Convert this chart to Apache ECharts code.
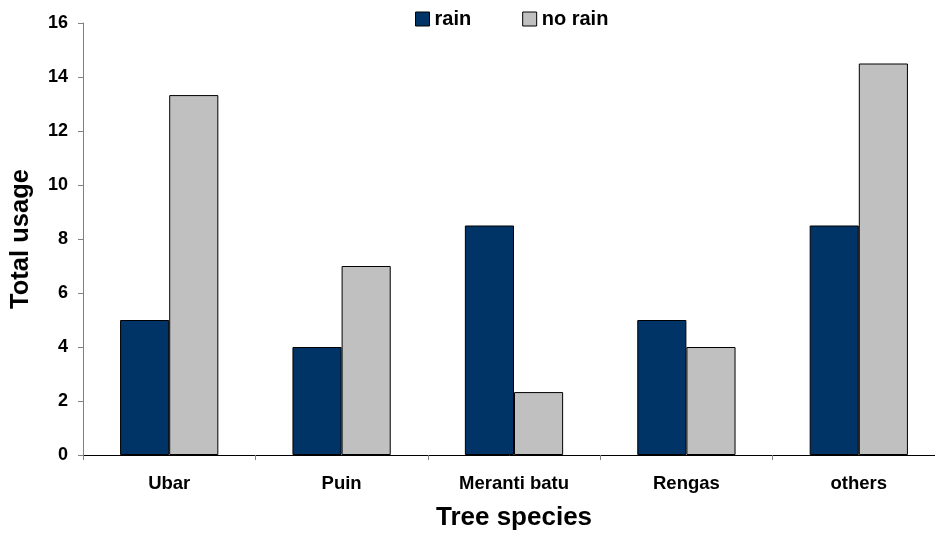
<!DOCTYPE html>
<html>
<head>
<meta charset="utf-8">
<script src="https://cdn.jsdelivr.net/npm/echarts@6/dist/echarts.min.js"></script>
<style>
html, body { margin: 0; padding: 0; background: #fff; }
#chart { width: 935px; height: 536px; }
</style>
</head>
<body>
<div id="chart"></div>
<script>
// Tree species and usage counts under each weather condition
const species = ['Ubar', 'Puin', 'Meranti batu', 'Rengas', 'others'];
const rainUsage = [5, 4, 8.5, 5, 8.5];
const noRainUsage = [13.33, 7, 2.33, 4, 14.5];
const yTicks = { min: 0, max: 16, interval: 2 };

const chart = echarts.init(document.getElementById('chart'));
const font = 'Arial, "Liberation Sans", sans-serif';

chart.setOption({
  animation: false,
  textStyle: { fontFamily: font },
  legend: {
    top: 4,
    left: 410,
    itemWidth: 14,
    itemHeight: 14,
    itemGap: 51,
    icon: 'rect',
    textStyle: { fontFamily: font, fontWeight: 'bold', fontSize: 20, color: '#000', padding: [0, 0, 0, 0] },
    data: [
      { name: 'rain', itemStyle: { color: '#003366', borderColor: '#000', borderWidth: 1 } },
      { name: 'no rain', itemStyle: { color: '#C0C0C0', borderColor: '#000', borderWidth: 1 } }
    ]
  },
  grid: { left: 83, top: 23, bottom: 81, right: -10, outerBoundsMode: 'none', containLabel: false },
  xAxis: {
    type: 'category',
    data: species,
    name: 'Tree species',
    nameLocation: 'middle',
    nameGap: 50,
    nameTextStyle: { fontFamily: font, fontWeight: 'bold', fontSize: 26, color: '#000' },
    axisLine: { lineStyle: { color: '#000', width: 1 } },
    axisTick: { show: true, length: 5, lineStyle: { color: '#808080' } },
    axisLabel: { fontFamily: font, fontWeight: 'bold', fontSize: 18.5, color: '#000', margin: 19 },
    splitLine: { show: false }
  },
  yAxis: {
    type: 'value',
    min: yTicks.min,
    max: yTicks.max,
    interval: yTicks.interval,
    name: 'Total usage',
    nameLocation: 'middle',
    nameGap: 49,
    nameTextStyle: { fontFamily: font, fontWeight: 'bold', fontSize: 25.5, color: '#000' },
    axisLine: { show: true, lineStyle: { color: '#808080', width: 1 } },
    axisTick: { show: true, length: 5, inside: false, lineStyle: { color: '#808080' } },
    axisLabel: { fontFamily: font, fontWeight: 'bold', fontSize: 18, color: '#000', margin: 15 },
    splitLine: { show: false }
  },
  series: [
    {
      name: 'rain',
      type: 'bar',
      data: rainUsage,
      barGap: '0%',
      barCategoryGap: '43%',
      itemStyle: { color: '#003366', borderColor: '#000', borderWidth: 1 }
    },
    {
      name: 'no rain',
      type: 'bar',
      data: noRainUsage,
      itemStyle: { color: '#C0C0C0', borderColor: '#000', borderWidth: 1 }
    }
  ]
});
</script>
</body>
</html>
